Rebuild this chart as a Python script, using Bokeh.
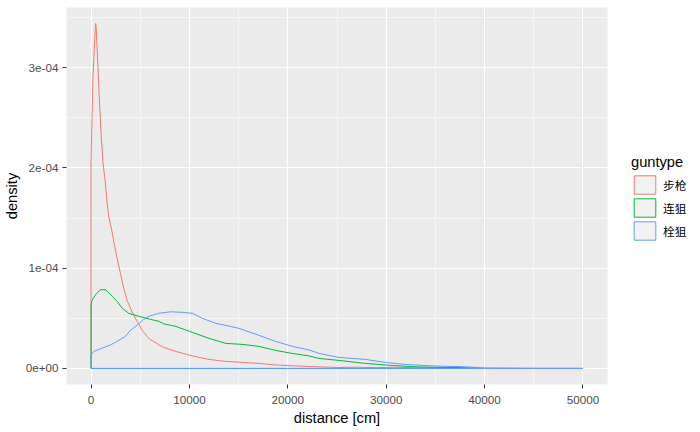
from bokeh.plotting import figure
from bokeh.models import Range1d, FixedTicker, Legend, LegendItem
from bokeh.embed import file_html
from bokeh.resources import INLINE

# ---------------- data ----------------
groups = ["步枪", "连狙", "栓狙"]
colors = ["#F8766D", "#00BA38", "#619CFF"]

rifle_x = [0, 100, 200, 340, 450, 510, 610, 810, 1010, 1220, 1420, 1620, 1800,
           2100, 2300, 2640, 2980, 3320, 3660, 4000, 4340, 4680, 4880, 5190,
           5700, 6030, 6370, 6890, 7390, 8600, 10290, 11990, 13710, 15520,
           17070, 18760, 20460, 22150, 23500, 25000, 27000, 29000, 31000,
           33000, 35000, 36500, 37700]
rifle_d = [2.07e-4, 2.53e-4, 2.93e-4, 3.22e-4, 3.44e-4, 3.42e-4, 3.20e-4,
           2.75e-4, 2.35e-4, 2.04e-4, 1.88e-4, 1.66e-4, 1.51e-4, 1.38e-4,
           1.27e-4, 1.10e-4, 0.95e-4, 0.80e-4, 0.68e-4, 0.60e-4, 0.53e-4,
           0.47e-4, 0.44e-4, 0.38e-4, 0.32e-4, 0.285e-4, 0.27e-4, 0.235e-4,
           0.21e-4, 0.17e-4, 0.125e-4, 0.09e-4, 0.07e-4, 0.06e-4, 0.05e-4,
           0.035e-4, 0.027e-4, 0.02e-4, 0.015e-4, 0.01e-4, 0.012e-4,
           0.008e-4, 0.012e-4, 0.007e-4, 0.006e-4, 0.008e-4, 0.005e-4]

semi_x = [0, 100, 450, 950, 1470, 2150, 2640, 3170, 3830, 4850, 6030, 6890,
          7390, 8600, 10290, 11990, 13710, 15380, 17070, 18760, 20460, 22150,
          23170, 25200, 27910, 30610, 33330, 36040, 39430]
semi_d = [0.635e-4, 0.68e-4, 0.735e-4, 0.785e-4, 0.785e-4, 0.72e-4, 0.67e-4,
          0.60e-4, 0.55e-4, 0.52e-4, 0.49e-4, 0.47e-4, 0.445e-4, 0.42e-4,
          0.36e-4, 0.30e-4, 0.25e-4, 0.24e-4, 0.22e-4, 0.18e-4, 0.15e-4,
          0.125e-4, 0.10e-4, 0.08e-4, 0.05e-4, 0.03e-4, 0.015e-4, 0.01e-4,
          0.005e-4]

bolt_x = [0, 270, 790, 1970, 2470, 3490, 4000, 4850, 5350, 5880, 6890, 8070,
          9270, 10290, 11310, 12670, 14150, 15040, 17070, 18760, 20460, 22150,
          23170, 25200, 27910, 29940, 31970, 34680, 37730, 40000, 45000, 50000]
bolt_d = [0.135e-4, 0.17e-4, 0.19e-4, 0.235e-4, 0.26e-4, 0.32e-4, 0.38e-4,
          0.445e-4, 0.49e-4, 0.52e-4, 0.55e-4, 0.565e-4, 0.56e-4, 0.55e-4,
          0.50e-4, 0.45e-4, 0.42e-4, 0.40e-4, 0.33e-4, 0.27e-4, 0.22e-4,
          0.185e-4, 0.15e-4, 0.11e-4, 0.09e-4, 0.06e-4, 0.04e-4, 0.025e-4,
          0.018e-4, 0.006e-4, 0.003e-4, 0.002e-4]

series_x = [rifle_x, semi_x, bolt_x]
series_d = [rifle_d, semi_d, bolt_d]

x_ticks = [0, 10000, 20000, 30000, 40000, 50000]
x_minor = [5000, 15000, 25000, 35000, 45000]
y_ticks = [0.0, 1e-4, 2e-4, 3e-4]
y_minor = [0.5e-4, 1.5e-4, 2.5e-4, 3.5e-4]
y_tick_labels = ["0e+00", "1e-04", "2e-04", "3e-04"]

# ---------------- figure ----------------
FONT = "Liberation Sans, Arial, Noto Sans CJK SC"

p = figure(frame_width=541, frame_height=377,
           x_range=Range1d(-2500, 52500), y_range=Range1d(-0.16e-4, 3.60e-4),
           output_backend="svg", toolbar_location=None,
           min_border_left=62, min_border_top=7, min_border_right=81,
           min_border_bottom=0,
           background_fill_color="#EBEBEB", border_fill_color="white",
           outline_line_color=None)
# a hidden range, used only so that legend-key renderers draw nothing in the panel
p.extra_x_ranges = {"keys": Range1d(-2.0, -1.0)}

for g in (p.xgrid, p.ygrid):
    g.grid_line_color = "white"
    g.grid_line_width = 1.1
    g.minor_grid_line_color = "white"
    g.minor_grid_line_width = 0.55
p.xgrid.ticker = FixedTicker(ticks=x_ticks, minor_ticks=x_minor)
p.ygrid.ticker = FixedTicker(ticks=y_ticks, minor_ticks=y_minor)

p.xaxis.ticker = FixedTicker(ticks=x_ticks)
p.yaxis.ticker = FixedTicker(ticks=y_ticks)
p.yaxis.major_label_overrides = dict(zip(y_ticks, y_tick_labels))

for ax in (p.xaxis[0], p.yaxis[0]):
    ax.axis_line_color = None
    ax.major_tick_line_color = "#333333"
    ax.major_tick_line_width = 1
    ax.major_tick_out = 4
    ax.major_tick_in = 0
    ax.minor_tick_line_color = None
    ax.major_label_text_font = FONT
    ax.major_label_text_font_size = "11.7px"
    ax.major_label_text_color = "#4D4D4D"
    ax.axis_label_text_font = FONT
    ax.axis_label_text_font_size = "14.67px"
    ax.axis_label_text_font_style = "normal"
    ax.axis_label_text_color = "black"

p.xaxis.axis_label = "distance [cm]"
p.yaxis.axis_label = "density"
p.xaxis.major_label_standoff = 7
p.xaxis.axis_label_standoff = 3
p.yaxis.major_label_standoff = 4
p.yaxis.axis_label_standoff = 3

# density outlines (closed polygons, like geom_density)
outlines = []
for xs, ds, c in zip(series_x, series_d, colors):
    r = p.patch(x=[xs[0]] + xs + [xs[-1]], y=[0] + ds + [0],
                fill_alpha=0, line_color=c, line_width=1)
    outlines.append(r)

# legend keys: grey key background + coloured outline
items = []
for name, xs, ds, c, r in zip(groups, series_x, series_d, colors, outlines):
    key = p.patch(x=[xs[0]] + xs + [xs[-1]], y=[0] + ds + [0],
                  fill_color="#F2F2F2", line_color=c, line_width=1,
                  x_range_name="keys")
    items.append(LegendItem(label=name, renderers=[key]))

legend = Legend(items=items, location=(24, 142), orientation="vertical",
                glyph_width=27, glyph_height=23, spacing=0, label_standoff=5,
                padding=0, margin=0, border_line_color=None,
                background_fill_alpha=0,
                title="guntype", title_text_font=FONT,
                title_text_font_size="14.67px", title_text_font_style="normal",
                title_text_color="black", title_standoff=3,
                label_text_font=FONT, label_text_font_size="11.7px",
                label_text_color="black")
p.add_layout(legend, "right")

open("out.html", "w").write(file_html(p, INLINE))
